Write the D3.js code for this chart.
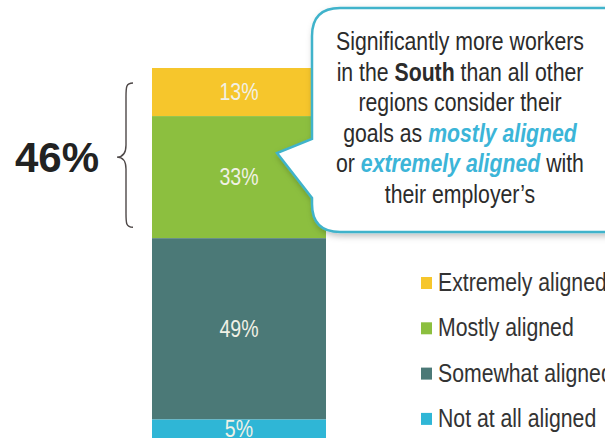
<!DOCTYPE html>
<html><head><meta charset="utf-8">
<script src="https://cdn.jsdelivr.net/npm/d3@7"></script>
<style>
html,body{margin:0;padding:0;background:#fff;}
svg{display:block;}
.narrow{font-family:"Liberation Sans",Arial,sans-serif;}
</style></head>
<body>
<svg id="chart" width="605" height="438"></svg>
<script>
const categories = ["Extremely aligned", "Mostly aligned", "Somewhat aligned", "Not at all aligned"];
const values = [13, 33, 49, 5];
const colors = ["#f6c62c", "#8cbf3f", "#4b7977", "#2fb6d6"];
const barLabels = ["13%", "33%", "49%", "5%"];
const groupLabel = "46%";
const calloutLines = [
  [{t:"Significantly more workers"}],
  [{t:"in the "},{t:"South",b:true},{t:" than all other"}],
  [{t:"regions consider their"}],
  [{t:"goals as "},{t:"mostly aligned",hi:true}],
  [{t:"or "},{t:"extremely aligned",hi:true},{t:" with"}],
  [{t:"their employer\u2019s"}]
];

const SX = 0.85; // condensed look
const svg = d3.select("#chart");
const defs = svg.append("defs");
const f = defs.append("filter").attr("id","sh").attr("x","-10%").attr("y","-10%").attr("width","130%").attr("height","130%");
f.append("feDropShadow").attr("dx",2).attr("dy",3).attr("stdDeviation",3).attr("flood-color","#000").attr("flood-opacity",0.25);
const condensed = cx => `translate(${cx},0) scale(${SX},1) translate(${-cx},0)`;

const x = d3.scaleBand().domain(["South"]).range([152, 326]).padding(0);
const y = d3.scaleLinear().domain([0, 100]).range([68, 438]);

let cum = 0;
const segs = values.map((v,i)=>{ const s={cat:categories[i], v, y0:cum, y1:cum+v, c:colors[i], lab:barLabels[i]}; cum+=v; return s; });

svg.append("g").selectAll("rect").data(segs).join("rect")
  .attr("x", x("South")).attr("width", x.bandwidth())
  .attr("y", d=>y(d.y0)).attr("height", d=>y(d.y1)-y(d.y0))
  .attr("fill", d=>d.c);

const cxBar = x("South")+x.bandwidth()/2;
svg.append("g").attr("transform", condensed(cxBar)).selectAll("text").data(segs).join("text")
  .attr("class","narrow")
  .attr("x", cxBar)
  .attr("y", d=>Math.min((y(d.y0)+y(d.y1))/2, 436))
  .attr("dy","0.36em")
  .attr("text-anchor","middle")
  .attr("font-size", 23)
  .attr("fill","#f1f1e6")
  .text(d=>d.lab);

// brace over top two segments
const bTop = y(0)+15, bBot = y(values[0]+values[1])-11, bMid = (bTop+bBot)/2+2;
const bx = 126;
svg.append("path")
  .attr("d", `M${bx+7},${bTop} C${bx},${bTop} ${bx},${bTop+4} ${bx},${bTop+14} L${bx},${bMid-12} C${bx},${bMid-4} ${bx-3},${bMid} ${bx-9},${bMid} C${bx-3},${bMid} ${bx},${bMid+4} ${bx},${bMid+12} L${bx},${bBot-14} C${bx},${bBot-4} ${bx},${bBot} ${bx+7},${bBot}`)
  .attr("fill","none").attr("stroke","#4e4848").attr("stroke-width",1.4);

svg.append("text")
  .attr("x", 57).attr("y", bMid).attr("dy","0.36em")
  .attr("text-anchor","middle")
  .attr("font-family","'Liberation Sans',Arial,sans-serif")
  .attr("font-weight","bold").attr("font-size",42).attr("fill","#222")
  .text(groupLabel);

// callout
const L=312, T=8, B=232, R=640, r=28;
const tip=[277,153];
const cpath = `M${L+r},${T} L${R},${T} L${R},${B} L${L+r},${B} Q${L},${B} ${L},${B-r} L${L},${198} L${tip[0]},${tip[1]} L${L},${139} L${L},${T+r} Q${L},${T} ${L+r},${T} Z`;
svg.append("path").attr("d",cpath).attr("fill","#fff").attr("stroke","#3fb3cb").attr("stroke-width",2.5).attr("filter","url(#sh)");

const ct = svg.append("g").attr("transform", condensed(460))
  .append("text").attr("class","narrow").attr("font-size",25).attr("fill","#2b2b2b").attr("text-anchor","middle");
calloutLines.forEach((line,i)=>{
  const t = ct.append("tspan").attr("x",460).attr("y",50+i*30.6);
  line.forEach(p=>{
    t.append("tspan")
      .attr("font-weight", (p.b||p.hi)?"bold":null)
      .attr("font-style", p.hi?"italic":null)
      .attr("fill", p.hi?"#3cb5d8":null)
      .text(p.t);
  });
});

// legend
const lg = svg.append("g").selectAll("g").data(categories).join("g")
  .attr("transform",(d,i)=>`translate(0,${291+i*45.3})`);
lg.append("rect").attr("x",421).attr("y",-14).attr("width",11).attr("height",12).attr("fill",(d,i)=>colors[i]);
lg.append("g").attr("transform", condensed(438)).append("text").attr("class","narrow").attr("x",438).attr("y",0)
  .attr("font-size",25).attr("fill","#333").text(d=>d);
</script>
</body></html>
